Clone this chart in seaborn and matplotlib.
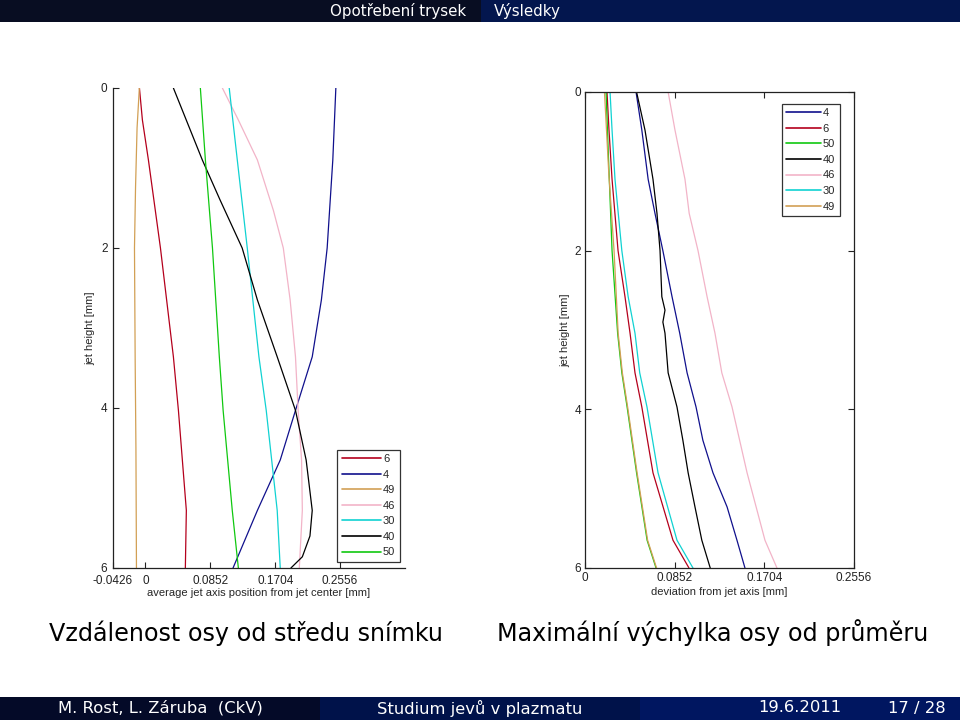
import numpy as np
import pandas as pd
import matplotlib
matplotlib.use("Agg")
import matplotlib.pyplot as plt
import seaborn as sns
from matplotlib.patches import Rectangle

sns.set_theme(style="ticks")
plt.rcParams['font.family'] = ['DejaVu Sans']

# ---------------- data: left plot (average jet axis position) ----------------
left_y = {
    "6":  [0, 0.4, 0.9, 2.0, 3.36, 4.03, 5.28, 6.0],
    "4":  [0, 0.9, 2.0, 2.65, 3.36, 4.03, 4.65, 5.28, 6.0],
    "49": [0, 0.5, 1.24, 2.0, 3.4, 4.5, 6.0],
    "46": [0, 0.4, 0.9, 1.53, 2.0, 2.65, 3.36, 4.03, 4.65, 5.28, 6.0],
    "30": [0, 0.9, 2.0, 3.36, 4.03, 5.28, 6.0],
    "40": [0, 0.9, 1.4, 2.0, 2.65, 3.36, 4.03, 4.65, 5.28, 5.6, 5.86, 6.0],
    "50": [0, 0.9, 2.0, 3.36, 4.03, 5.28, 6.0],
}
left_x = {
    "6":  [-0.0079, -0.004, 0.0039, 0.0197, 0.0367, 0.0433, 0.0537, 0.0524],
    "4":  [0.250, 0.246, 0.2386, 0.231, 0.219, 0.197, 0.177, 0.147, 0.115],
    "49": [-0.008, -0.011, -0.013, -0.0144, -0.0135, -0.0125, -0.0118],
    "46": [0.101, 0.122, 0.147, 0.168, 0.181, 0.190, 0.197, 0.2005, 0.205, 0.206, 0.202],
    "30": [0.110, 0.1206, 0.1337, 0.149, 0.1586, 0.173, 0.177],
    "40": [0.0367, 0.0747, 0.098, 0.127, 0.147, 0.173, 0.197, 0.211, 0.219, 0.216, 0.206, 0.191],
    "50": [0.0721, 0.0787, 0.088, 0.097, 0.102, 0.114, 0.122],
}
left_order = ["6", "4", "49", "46", "30", "40", "50"]

# ---------------- data: right plot (max deviation from axis) ----------------
right_y = {
    "4":  [0, 0.48, 1.1, 1.53, 2.0, 2.58, 3.04, 3.54, 3.97, 4.39, 4.8, 5.23, 5.65, 6.0],
    "6":  [0, 0.48, 1.1, 2.0, 2.58, 3.04, 3.54, 3.97, 4.8, 5.65, 6.0],
    "50": [0, 1.0, 2.0, 3.04, 3.54, 3.97, 4.8, 5.65, 6.0],
    "40": [0, 0.48, 1.1, 1.53, 2.0, 2.58, 2.75, 2.9, 3.04, 3.54, 3.97, 4.39, 4.8, 5.23, 5.65, 6.0],
    "46": [0, 0.48, 1.1, 1.53, 2.0, 2.58, 3.04, 3.54, 3.97, 4.8, 5.65, 6.0],
    "30": [0, 0.48, 1.1, 2.0, 2.58, 3.04, 3.54, 3.97, 4.8, 5.65, 6.0],
    "49": [0, 1.0, 2.0, 3.04, 3.54, 3.97, 4.8, 5.65, 6.0],
}
right_x = {
    "4":  [0.0485, 0.054, 0.060, 0.0665, 0.074, 0.0827, 0.090, 0.097, 0.1055, 0.112, 0.1216, 0.135, 0.1444, 0.152],
    "6":  [0.0209, 0.0228, 0.0257, 0.0314, 0.038, 0.0428, 0.0475, 0.054, 0.0646, 0.0836, 0.0988],
    "50": [0.0200, 0.0228, 0.0257, 0.031, 0.035, 0.040, 0.049, 0.059, 0.0675],
    "40": [0.049, 0.057, 0.0646, 0.0684, 0.0713, 0.073, 0.076, 0.074, 0.076, 0.079, 0.0874, 0.093, 0.098, 0.1045, 0.111, 0.119],
    "46": [0.079, 0.0855, 0.095, 0.099, 0.1074, 0.116, 0.1235, 0.130, 0.1397, 0.154, 0.171, 0.1824],
    "30": [0.0238, 0.0257, 0.0285, 0.035, 0.041, 0.0475, 0.052, 0.0589, 0.0694, 0.0874, 0.1026],
    "49": [0.0185, 0.0225, 0.0276, 0.0315, 0.0355, 0.0405, 0.0495, 0.0595, 0.0680],
}
right_order = ["4", "6", "50", "40", "46", "30", "49"]

palette = {
    "6": "#b4001c", "4": "#10108c", "49": "#d2a055", "46": "#f2b4c8",
    "30": "#10d2d2", "40": "#000000", "50": "#10c810",
}

x_ticks = [-0.0426, 0, 0.0852, 0.1704, 0.2556]
x_tick_labels = ["-0.0426", "0", "0.0852", "0.1704", "0.2556"]
rx_ticks = [0, 0.0852, 0.1704, 0.2556]
rx_tick_labels = ["0", "0.0852", "0.1704", "0.2556"]
y_ticks = [0, 2, 4, 6]


def to_df(xs, ys, order):
    rows = []
    for s in order:
        for i, (xv, yv) in enumerate(zip(xs[s], ys[s])):
            rows.append({"x": xv, "y": yv, "series": s, "idx": i})
    return pd.DataFrame(rows)


fig = plt.figure(figsize=(9.6, 7.2), dpi=100)
fig.patch.set_facecolor("white")

MFONT = ["Liberation Sans", "DejaVu Sans"]
tick_font = {"family": MFONT, "size": 8.5}
label_font = {"family": MFONT, "size": 8}

# ---------------- header / footer ----------------
fig.add_artist(Rectangle((0, 1 - 22 / 720), 481 / 960, 22 / 720, transform=fig.transFigure,
                         facecolor="#080d22", edgecolor="none"))
fig.add_artist(Rectangle((481 / 960, 1 - 22 / 720), 479 / 960, 22 / 720, transform=fig.transFigure,
                         facecolor="#03164e", edgecolor="none"))
fig.text(466 / 960, 1 - 11 / 720, "Opotřebení trysek", color="white", fontsize=10.8,
         ha="right", va="center")
fig.text(494 / 960, 1 - 11 / 720, "Výsledky", color="white", fontsize=10.8,
         ha="left", va="center")

foot_h = 23 / 720
for x0, col in [(0, "#040a28"), (320, "#00124a"), (640, "#001660")]:
    fig.add_artist(Rectangle((x0 / 960, 0), 320 / 960, foot_h, transform=fig.transFigure,
                             facecolor=col, edgecolor="none"))
fy = 12 / 720
fs_foot = 11.8
fig.text(160 / 960, fy, "M. Rost, L. Záruba  (CkV)", color="white", fontsize=fs_foot, ha="center", va="center")
fig.text(480 / 960, fy, "Studium jevů v plazmatu", color="white", fontsize=fs_foot, ha="center", va="center")
fig.text(841 / 960, fy, "19.6.2011", color="white", fontsize=fs_foot, ha="right", va="center")
fig.text(946 / 960, fy, "17 / 28", color="white", fontsize=fs_foot, ha="right", va="center")

# captions
fig.text(246 / 960, 1 - 633 / 720, "Vzdálenost osy od středu snímku", color="black",
         fontsize=17.2, ha="center", va="center")
fig.text(713 / 960, 1 - 633 / 720, "Maximální výchylka osy od průměru", color="black",
         fontsize=17.2, ha="center", va="center")

# ---------------- left plot ----------------
axL = fig.add_axes([113 / 960, 1 - 568 / 720, 292 / 960, 480 / 720])
dfL = to_df(left_x, left_y, left_order)
sns.lineplot(data=dfL, x="x", y="y", hue="series", hue_order=left_order, palette=palette,
             units="series", estimator=None, sort=False, linewidth=0.9, ax=axL, legend=False)
axL.set_xlim(-0.0426, 0.3408)
axL.set_ylim(6, 0)
axL.set_xticks(x_ticks)
axL.set_xticklabels(x_tick_labels, fontdict=tick_font)
axL.set_yticks(y_ticks)
axL.set_yticklabels([str(v) for v in y_ticks], fontdict=tick_font)
axL.tick_params(direction="in", length=4, width=0.8, colors="#222222", pad=3)
axL.tick_params(axis="x", pad=5)
axL.tick_params(axis="y", pad=4)
for side in ["top", "right"]:
    axL.spines[side].set_visible(False)
for side in ["left", "bottom"]:
    axL.spines[side].set_linewidth(0.9)
    axL.spines[side].set_color("#222222")
axL.set_xlabel("average jet axis position from jet center [mm]", fontdict=label_font, labelpad=1)
axL.set_ylabel("jet height [mm]", fontdict=label_font, labelpad=4)
axL.set_facecolor("white")

handles = [plt.Line2D([], [], color=palette[s], lw=1.2) for s in left_order]
legL = axL.legend(handles, left_order, loc="lower right", bbox_to_anchor=(0.99, 0.008),
                  prop={"family": MFONT, "size": 8},
                  frameon=True, fancybox=False, handlelength=3.5, handletextpad=0.2,
                  labelspacing=0.5, borderpad=0.4, borderaxespad=0.2)
legL.get_frame().set_edgecolor("black")
legL.get_frame().set_linewidth(0.9)

# ---------------- right plot ----------------
axR = fig.add_axes([585 / 960, 1 - 568 / 720, 269 / 960, 476 / 720])
dfR = to_df(right_x, right_y, right_order)
sns.lineplot(data=dfR, x="x", y="y", hue="series", hue_order=right_order, palette=palette,
             units="series", estimator=None, sort=False, linewidth=0.9, ax=axR, legend=False)
axR.set_xlim(0, 0.2556)
axR.set_ylim(6, 0)
axR.set_xticks(rx_ticks)
axR.set_xticklabels(rx_tick_labels, fontdict=tick_font)
axR.set_yticks(y_ticks)
axR.set_yticklabels([str(v) for v in y_ticks], fontdict=tick_font)
axR.tick_params(direction="in", length=4, width=0.8, colors="#222222", pad=3,
                top=True, right=True)
for side in ["top", "right", "left", "bottom"]:
    axR.spines[side].set_visible(True)
    axR.spines[side].set_linewidth(0.9)
    axR.spines[side].set_color("#222222")
axR.set_xlabel("deviation from jet axis [mm]", fontdict=label_font, labelpad=2)
axR.set_ylabel("jet height [mm]", fontdict=label_font, labelpad=3)
axR.set_facecolor("white")

handles = [plt.Line2D([], [], color=palette[s], lw=1.2) for s in right_order]
legR = axR.legend(handles, right_order, loc="upper right", bbox_to_anchor=(0.955, 0.98),
                  prop={"family": MFONT, "size": 8},
                  frameon=True, fancybox=False, handlelength=3.1, handletextpad=0.2,
                  labelspacing=0.5, borderpad=0.4, borderaxespad=0.2)
legR.get_frame().set_edgecolor("black")
legR.get_frame().set_linewidth(0.9)

fig.savefig("out.png", dpi=100)
